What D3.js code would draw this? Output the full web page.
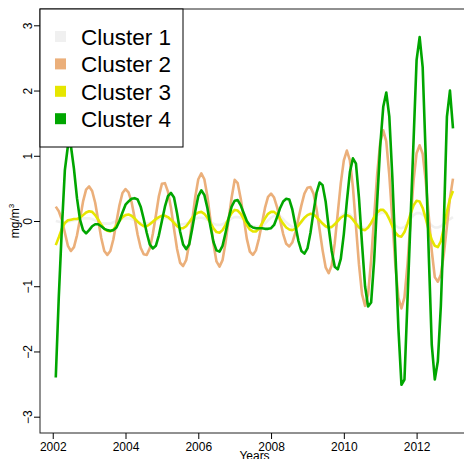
<!DOCTYPE html>
<html>
<head>
<meta charset="utf-8">
<script src="https://cdn.jsdelivr.net/npm/d3@7"></script>
<style>
  body { margin: 0; background: #fff; }
  svg { display: block; font-family: "Liberation Sans", Arial, sans-serif; }
</style>
</head>
<body>
<svg id="chart" width="464" height="459"></svg>
<script>

// monthly anomalies, Feb 2002 .. Jan 2013 (one value per month)
const startYear = 2002;
const clusterNames = ['Cluster 1', 'Cluster 2', 'Cluster 3', 'Cluster 4'];
const clusterColors = ['#f0f0f0', '#ebaf7a', '#e6e600', '#00a600'];
const yearTicks = [2002, 2004, 2006, 2008, 2010, 2012];
const valueTicks = [-3, -2, -1, 0, 1, 2, 3];

const cluster1 = [
  0.00,-0.01,-0.02,-0.02,-0.01,0.00, 0.01,0.02,0.03,0.04,0.04,0.04,
  0.03,0.01,-0.01,-0.03,-0.04,-0.04, -0.04,-0.02,0.00,0.02,0.04,0.04,
  0.04,0.03,0.01,-0.01,-0.03,-0.04, -0.04,-0.03,-0.01,0.01,0.03,0.04,
  0.05,0.04,0.02,-0.01,-0.03,-0.05, -0.05,-0.04,-0.02,0.01,0.03,0.05,
  0.05,0.04,0.02,-0.01,-0.04,-0.06, -0.06,-0.05,-0.02,0.01,0.04,0.06,
  0.06,0.05,0.02,-0.02,-0.05,-0.08, -0.09,-0.09,-0.08,-0.04,0.01,0.05,
  0.08,0.09,0.07,0.03,-0.02,-0.06, -0.09,-0.09,-0.07,-0.02,0.04,0.09,
  0.12,0.11,0.07,0.01,-0.05,-0.09, -0.11,-0.10,-0.05,0.01,0.07,0.11,
  0.12,0.10,0.05,-0.01,-0.07,-0.10, -0.11,-0.09,-0.04,0.03,0.09,0.12,
  0.13,0.11,0.06,-0.01,-0.07,-0.10, -0.11,-0.09,-0.04,0.03,0.09,0.12,
  0.12,0.10,0.05,-0.02,-0.07,-0.10, -0.10,-0.08,-0.04,0.00,0.03,0.06
];
const cluster2 = [
  0.22,0.15,0.02,-0.18,-0.38,-0.46, -0.40,-0.22,0.03,0.30,0.48,0.53,
  0.46,0.28,0.01,-0.26,-0.46,-0.52, -0.46,-0.28,-0.02,0.24,0.43,0.49,
  0.44,0.29,0.05,-0.21,-0.41,-0.51, -0.52,-0.42,-0.20,0.08,0.38,0.57,
  0.58,0.45,0.20,-0.12,-0.43,-0.64, -0.69,-0.60,-0.35,0.00,0.37,0.64,
  0.73,0.64,0.38,0.02,-0.35,-0.62, -0.70,-0.60,-0.33,0.02,0.36,0.63,
  0.58,0.34,0.04,-0.27,-0.47,-0.52, -0.45,-0.27,-0.04,0.20,0.37,0.42,
  0.36,0.21,0.01,-0.20,-0.35,-0.39, -0.33,-0.18,0.03,0.24,0.42,0.51,
  0.52,0.42,0.18,-0.13,-0.45,-0.71, -0.80,-0.68,-0.34,0.12,0.58,0.93,
  1.08,0.93,0.52,-0.08,-0.67,-1.12, -1.30,-1.13,-0.60,0.06,0.72,1.20,
  1.39,1.22,0.70,0.02,-0.68,-1.18, -1.34,-1.17,-0.66,0.00,0.62,1.04,
  1.16,1.03,0.62,0.08,-0.46,-0.86, -0.93,-0.82,-0.50,-0.08,0.35,0.65
];
const cluster3 = [
  -0.37,-0.25,-0.12,-0.03,0.01,0.02, 0.03,0.03,0.05,0.09,0.13,0.15,
  0.14,0.09,0.02,-0.06,-0.12,-0.15, -0.16,-0.13,-0.07,0.00,0.06,0.09,
  0.10,0.08,0.04,-0.01,-0.05,-0.08, -0.08,-0.05,-0.01,0.03,0.06,0.08,
  0.08,0.06,0.02,-0.03,-0.08,-0.11, -0.11,-0.08,-0.02,0.05,0.10,0.13,
  0.14,0.11,0.05,-0.03,-0.11,-0.17, -0.18,-0.14,-0.06,0.04,0.12,0.17,
  0.16,0.11,0.03,-0.06,-0.13,-0.16, -0.16,-0.12,-0.04,0.04,0.11,0.14,
  0.14,0.10,0.03,-0.04,-0.10,-0.13, -0.14,-0.12,-0.07,-0.01,0.05,0.09,
  0.11,0.10,0.06,0.01,-0.04,-0.08, -0.10,-0.09,-0.05,0.00,0.05,0.08,
  0.09,0.07,0.02,-0.04,-0.10,-0.13, -0.14,-0.10,-0.03,0.06,0.13,0.17,
  0.17,0.12,0.03,-0.08,-0.18,-0.23, -0.24,-0.17,-0.04,0.11,0.24,0.31,
  0.30,0.20,0.04,-0.14,-0.29,-0.38, -0.40,-0.31,-0.10,0.14,0.34,0.46
];
const cluster4 = [
  -2.40,-1.16,-0.12,0.78,1.15,1.15, 0.80,0.35,0.02,-0.14,-0.19,-0.14,
  -0.08,-0.05,-0.05,-0.08,-0.12,-0.14, -0.15,-0.14,-0.10,0.00,0.13,0.25,
  0.30,0.34,0.35,0.33,0.22,0.03, -0.18,-0.36,-0.42,-0.38,-0.22,0.00,
  0.22,0.38,0.43,0.36,0.12,-0.16, -0.36,-0.43,-0.36,-0.12,0.15,0.38,
  0.47,0.40,0.20,-0.08,-0.32,-0.45, -0.47,-0.38,-0.18,0.04,0.22,0.31,
  0.32,0.24,0.12,0.00,-0.07,-0.10, -0.11,-0.11,-0.11,-0.12,-0.12,-0.11,
  -0.06,0.06,0.20,0.30,0.34,0.33, 0.18,-0.06,-0.30,-0.46,-0.50,-0.42,
  -0.18,0.14,0.43,0.59,0.55,0.30, -0.10,-0.46,-0.70,-0.74,-0.58,-0.20,
  0.30,0.75,0.96,0.88,0.35,-0.35, -1.00,-1.31,-1.25,-0.60,0.30,1.15,
  1.75,1.97,1.60,0.67,-0.47,-1.65, -2.51,-2.43,-1.21,0.02,1.24,2.47,
  2.82,2.36,1.00,-0.50,-1.90,-2.43, -2.15,-1.30,0.00,1.60,2.00,1.42
];
const series = [cluster1, cluster2, cluster3, cluster4];

const svg = d3.select('#chart');

// plot region (right edge runs a little past the window, like the original)
const plotLeft = 40, plotRight = 469, plotTop = 9, plotBottom = 433;

const xScale = d3.scaleLinear().domain([2001.65, 2013.44]).range([plotLeft, plotRight]);
const yScale = d3.scaleLinear().domain([-3.25, 3.25]).range([plotBottom, plotTop]);

// time of each monthly value
const monthTime = i => startYear + (i + 1) / 12;

// draw the series lines
const line = d3.line()
               .x((d, i) => xScale(monthTime(i)))
               .y(d => yScale(d));

svg.append('g')
   .attr('id', 'lines')
   .selectAll('path')
   .data(series)
   .enter()
   .append('path')
   .attr('d', d => line(d))
   .attr('fill', 'none')
   .attr('stroke', (d, i) => clusterColors[i])
   .attr('stroke-width', 2.6)
   .attr('stroke-linejoin', 'round');

// frame
svg.append('rect')
   .attr('x', plotLeft)
   .attr('y', plotTop)
   .attr('width', plotRight - plotLeft)
   .attr('height', plotBottom - plotTop)
   .attr('fill', 'none')
   .attr('stroke', '#222')
   .attr('stroke-width', 1);

// x-axis
const xAxis = d3.axisBottom(xScale)
                .tickValues(yearTicks)
                .tickFormat(d3.format('d'))
                .tickSize(6)
                .tickPadding(3);
svg.append('g')
   .attr('id', 'xAxisG')
   .attr('transform', `translate(0, ${plotBottom})`)
   .call(xAxis)
   .call(g => g.select('.domain').remove())
   .call(g => g.selectAll('text').attr('font-size', 12).attr('fill', '#000')
                .attr('font-family', '"Liberation Sans", Arial, sans-serif'));

// y-axis, labels turned to run along the axis
const yAxis = d3.axisLeft(yScale)
                .tickValues(valueTicks)
                .tickFormat(d => d < 0 ? '\u2212' + Math.abs(d) : d)
                .tickSize(6);
svg.append('g')
   .attr('id', 'yAxisG')
   .attr('transform', `translate(${plotLeft}, 0)`)
   .call(yAxis)
   .call(g => g.select('.domain').remove())
   .call(g => g.selectAll('text')
                .attr('font-size', 12)
                .attr('fill', '#000')
                .attr('font-family', '"Liberation Sans", Arial, sans-serif')
                .attr('text-anchor', 'middle')
                .attr('dy', null)
                .attr('x', null)
                .attr('transform', 'translate(-8, 0) rotate(-90)'));

// axis titles
svg.append('text')
   .text('Years')
   .attr('x', (plotLeft + plotRight) / 2)
   .attr('y', 460)
   .attr('text-anchor', 'middle')
   .attr('font-size', 12);

const ylab = svg.append('text')
   .attr('transform', `translate(19, ${(plotTop + plotBottom) / 2}) rotate(-90)`)
   .attr('text-anchor', 'middle')
   .attr('font-size', 12);
ylab.append('tspan').text('mg/m');
ylab.append('tspan').text('3').attr('font-size', 8).attr('dy', -5);

// legend
const legend = svg.append('g').attr('id', 'legend');
legend.append('rect')
      .attr('x', plotLeft)
      .attr('y', plotTop)
      .attr('width', 143)
      .attr('height', 138)
      .attr('fill', '#fff')
      .attr('stroke', '#000')
      .attr('stroke-width', 1);

const items = legend.selectAll('g.item')
      .data(clusterNames)
      .enter()
      .append('g')
      .attr('class', 'item')
      .attr('transform', (d, i) => `translate(0, ${36.5 + i * 27.4})`);
items.append('rect')
     .attr('x', 55)
     .attr('y', -5.5)
     .attr('width', 11)
     .attr('height', 11)
     .attr('fill', (d, i) => clusterColors[i]);
items.append('text')
     .text(d => d)
     .attr('x', 81)
     .attr('y', 8.5)
     .attr('font-size', 22.5)
     .attr('fill', '#000');

</script>
</body>
</html>
